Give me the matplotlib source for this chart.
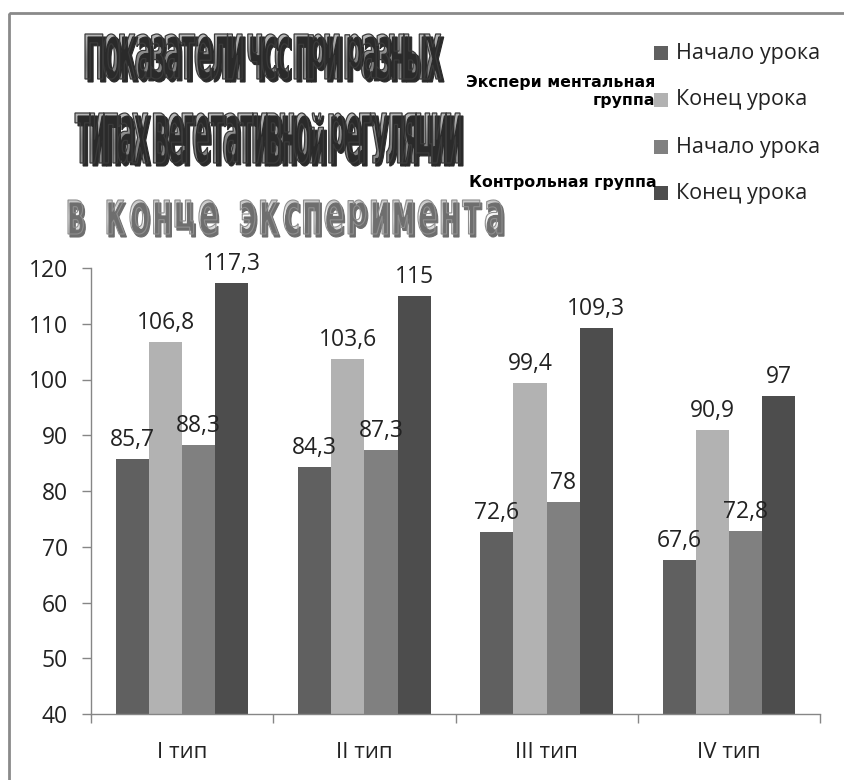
import numpy as np
import matplotlib
matplotlib.use("Agg")
import matplotlib.pyplot as plt
from matplotlib.patches import Rectangle, PathPatch
from matplotlib.textpath import TextPath
from matplotlib.font_manager import FontProperties
from matplotlib.path import Path
from matplotlib.transforms import Affine2D

plt.rcParams["font.family"] = ["Open Sans", "DejaVu Sans"]

categories = ["I тип", "II тип", "III тип", "IV тип"]
series_names = ["Начало урока", "Конец урока", "Начало урока", "Конец урока"]
exp_start = [85.7, 84.3, 72.6, 67.6]
exp_end = [106.8, 103.6, 99.4, 90.9]
ctrl_start = [88.3, 87.3, 78, 72.8]
ctrl_end = [117.3, 115, 109.3, 97]
colors = ["#606060", "#b2b2b2", "#808080", "#4d4d4d"]

title_lines = ["Показатели чсс при разных", "типах вегетативной регуляции"]
subtitle = "в конце эксперимента"
group_labels = ["Экспери ментальная\nгруппа", "Контрольная группа"]

W, H = 845, 780
fig = plt.figure(figsize=(W / 100, H / 100), dpi=100)

# main bar chart
ax = fig.add_axes([91 / W, 1 - 714 / H, 729 / W, 446 / H])
series = [exp_start, exp_end, ctrl_start, ctrl_end]
x = np.arange(len(categories))
bw = 1 / (len(series) + 1.5)
for i, (vals, col) in enumerate(zip(series, colors)):
    pos = x + (i - 1.5) * bw
    bars = ax.bar(pos, np.array(vals) - 40, bw, bottom=40, color=col, zorder=2)
    for b, v in zip(bars, vals):
        lab = f"{v:g}".replace(".", ",")
        ax.annotate(lab, (b.get_x() + b.get_width() / 2, v), xytext=(0, 5),
                    textcoords="offset points", ha="center", va="bottom",
                    fontsize=16.5, color="#222222")

ax.set_xlim(-0.5, len(categories) - 0.5)
ax.set_ylim(40, 120)
ax.set_yticks(range(40, 121, 10))
ax.set_xticks(x)
ax.set_xticklabels(categories)
ax.set_xticks(np.arange(-0.5, len(categories)), minor=True)
ax.tick_params(axis="x", which="major", length=0, pad=20, labelsize=16, labelcolor="#222222")
ax.tick_params(axis="x", which="minor", length=6.5, width=1, color="#868686")
ax.tick_params(axis="y", length=6.5, width=1, color="#868686", pad=10,
               labelsize=16.5, labelcolor="#222222")
for side in ["top", "right"]:
    ax.spines[side].set_visible(False)
for side in ["left", "bottom"]:
    ax.spines[side].set_color("#868686")
    ax.spines[side].set_linewidth(1)

# overlay in pixel coordinates for frame, title art and legend
ov = fig.add_axes([0, 0, 1, 1], zorder=5)
ov.set_xlim(0, W)
ov.set_ylim(H, 0)
ov.axis("off")
ov.patch.set_alpha(0)

ov.add_patch(Rectangle((9, 13), W + 100, H + 100, fill=False, ec="#8a8a8a", lw=2,
                       clip_on=False))


def glyph_line(text, box, prop, track, space):
    # every glyph stretched to the full box height, then the row squeezed to the box width
    x0, y0, x1, y1 = box
    h = y1 - y0
    pieces, cursor = [], 0.0
    for ch in text:
        if ch == " ":
            cursor += space
            continue
        tp = TextPath((0, 0), ch, size=50, prop=prop)
        ext = tp.get_extents()
        pieces.append((tp, ext, cursor))
        cursor += ext.width + track
    total = cursor - track
    k = (x1 - x0) / total
    verts, codes = [], []
    for tp, ext, cx in pieces:
        tr = (Affine2D().translate(-ext.x0, -ext.y0)
              .scale(k, -h / ext.height)
              .translate(x0 + cx * k, y1))
        p = tr.transform_path(tp)
        verts.append(p.vertices)
        codes.append(p.codes)
    return Path(np.concatenate(verts), np.concatenate(codes))


def word_art(path, box, grad, edge, shadow, shadow_off, lw=0.9):
    x0, y0, x1, y1 = box
    dx, dy = shadow_off
    sh = Affine2D().translate(dx, dy).transform_path(path)
    ov.add_patch(PathPatch(sh, fc=shadow, ec=shadow, lw=0.8))
    clip = PathPatch(path, fc="none", ec="none")
    ov.add_patch(clip)
    g = np.array(grad)[:, None]
    im = ov.imshow(g, cmap="gray", vmin=0, vmax=1, extent=(x0, x1, y1, y0),
                   aspect="auto", interpolation="bicubic")
    im.set_clip_path(clip)
    ov.add_patch(PathPatch(path, fc="none", ec=edge, lw=lw))


bold = FontProperties(family="DejaVu Sans", weight="bold")
title_grad = [0.72, 0.6, 0.52, 0.48, 0.55]
for line, box in zip(title_lines, [(85, 34, 441, 79), (75, 113, 460, 163)]):
    p = glyph_line(line, box, bold, track=0.5, space=10)
    word_art(p, box, title_grad, "#3a3a3a", "#2a2a2a", (3, 3))

sub_box = (68, 200, 502, 234)
p = glyph_line(subtitle, sub_box, bold, track=9, space=30)
word_art(p, sub_box, [0.78, 0.92, 1.0, 0.93, 0.8], "#8e8e8e", "#6e6e6e", (2, 3), lw=0.8)

# legend
leg_y = [53, 100, 147, 193]
for yy, name, col in zip(leg_y, series_names, colors):
    ov.add_patch(Rectangle((654, yy - 7), 14, 14, fc=col, ec="none"))
    ov.text(676, yy, name, fontsize=15.5, color="#222222", va="center", ha="left")

ov.text(655, 92, group_labels[0], fontsize=11.3, fontweight="bold", family="DejaVu Sans",
        ha="right", va="center", multialignment="right", linespacing=1.25)
ov.text(657, 183, group_labels[1], fontsize=11.3, fontweight="bold", family="DejaVu Sans",
        ha="right", va="center")

fig.savefig("out.png", dpi=100)
